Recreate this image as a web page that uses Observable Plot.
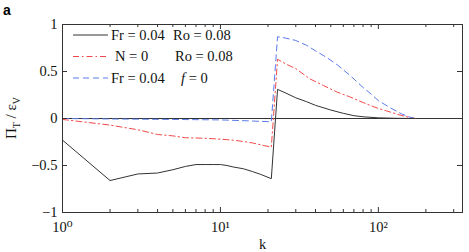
<!DOCTYPE html>
<html><head><meta charset="utf-8">
<script src="https://cdn.jsdelivr.net/npm/d3@7"></script>
<script src="https://cdn.jsdelivr.net/npm/@observablehq/plot@0.6"></script>
<style>
body{margin:0;background:#fff;}
#wrap{position:relative;width:469px;height:252px;}
</style></head><body><div id="wrap"></div>
<script>
// Series 1: Fr = 0.04, Ro = 0.08 (black solid)
const kBlack = [1,2,3,4,5,6,7,8,9,10,11,12,14,16,18,21,23,26,30,35,40,50,60,70,80,100,130,170];
const piBlack = [-0.23,-0.66,-0.59,-0.58,-0.545,-0.51,-0.49,-0.49,-0.49,-0.49,-0.5,-0.515,-0.535,-0.565,-0.595,-0.64,0.31,0.27,0.22,0.18,0.14,0.09,0.055,0.03,0.018,0.007,0.002,0];
// Series 2: N = 0, Ro = 0.08 (red dash-dot)
const kRed = [1,2,3,4,5,6,8,10,12,14,16,18,21,23,26,30,37,45,55,66,80,95,113,135,150,171];
const piRed = [-0.01,-0.07,-0.12,-0.17,-0.185,-0.205,-0.21,-0.22,-0.23,-0.245,-0.26,-0.28,-0.305,0.63,0.58,0.53,0.42,0.35,0.28,0.23,0.17,0.12,0.08,0.04,0.02,0];
// Series 3: Fr = 0.04, f = 0 (blue dashed)
const kBlue = [1,2,5,10,15,21,23,26,30,35,40,47,55,66,80,90,100,120,140,158,171];
const piBlue = [0,-0.005,-0.01,-0.015,-0.025,-0.035,0.87,0.855,0.83,0.78,0.72,0.65,0.57,0.46,0.33,0.26,0.19,0.11,0.05,0.015,0];

const xMajor = [1,10,100];
const xMinor = [2,3,4,5,6,7,8,9,20,30,40,50,60,70,80,90,200,300];
const yTicks = [-1,-0.5,0,0.5,1];
const supDigits = {"0":"\u2070","1":"\u00B9","2":"\u00B2"};

const W = 469, H = 252, mL = 62, mR = 7, mT = 24, mB = 40;
const fw = W - mL - mR, fh = H - mT - mB;
const axisColor = "#333";
const red = "#f24a4a", blue = "#5b7bea", black = "#333";
const serif = "'Liberation Serif','Times New Roman','DejaVu Serif',serif";

const toRows = (ks, vs) => ks.map((k, i) => ({k, v: vs[i]}));

const chart = Plot.plot({
  width: W, height: H,
  marginLeft: mL, marginRight: mR, marginTop: mT, marginBottom: mB,
  style: {fontFamily: serif, fontSize: "14px", color: "#111", background: "#fff", overflow: "visible"},
  x: {type: "log", domain: [1, 341]},
  y: {domain: [-1, 1]},
  marks: [
    Plot.ruleY([0], {stroke: axisColor, strokeWidth: 1}),
    Plot.line(toRows(kRed, piRed), {x: "k", y: "v", stroke: red, strokeWidth: 1, strokeDasharray: "6,3,1.5,3"}),
    Plot.line(toRows(kBlue, piBlue), {x: "k", y: "v", stroke: blue, strokeWidth: 1, strokeDasharray: "6,4"}),
    Plot.line(toRows(kBlack, piBlack), {x: "k", y: "v", stroke: black, strokeWidth: 1}),
    Plot.tickX(xMajor, {x: d => d, insetTop: fh - 5, stroke: axisColor}),
    Plot.tickX(xMajor, {x: d => d, insetBottom: fh - 5, stroke: axisColor}),
    Plot.tickX(xMinor, {x: d => d, insetTop: fh - 3, stroke: axisColor}),
    Plot.tickX(xMinor, {x: d => d, insetBottom: fh - 3, stroke: axisColor}),
    Plot.tickY(yTicks, {y: d => d, insetRight: fw - 5, stroke: axisColor}),
    Plot.tickY(yTicks, {y: d => d, insetLeft: fw - 5, stroke: axisColor}),
    Plot.frame({stroke: axisColor, strokeWidth: 1}),
    Plot.axisY(yTicks, {tickSize: 0, tickPadding: 5, label: null, fontSize: 14.5, fontFamily: serif,
      tickFormat: d => d === 0 ? "0" : (d < 0 ? "\u2212" : "") + String(Math.abs(d))}),
    Plot.axisX(xMajor, {tickSize: 0, tickPadding: 9, fontSize: 14.5, fontFamily: serif,
      tickFormat: d => "10" + supDigits[String(Math.round(Math.log10(d)))],
      label: "k", labelAnchor: "center", labelArrow: "none", labelOffset: 36})
  ]
});
document.getElementById("wrap").appendChild(chart);

const svg = d3.select(chart);
// panel letter
svg.append("text").attr("x", 3).attr("y", 15).attr("text-anchor", "start")
  .attr("font-family", "'Liberation Sans',Arial,sans-serif").attr("font-weight", "bold")
  .attr("font-size", 14).attr("fill", "#000").text("a");
// y label
const yl = svg.append("text").attr("transform", "translate(16,118) rotate(-90)")
  .attr("text-anchor", "middle").attr("font-family", serif)
  .attr("font-size", 15).attr("fill", "#111");
yl.append("tspan").text("\u03A0");
yl.append("tspan").attr("font-size", 10).attr("dy", 4).text("T");
yl.append("tspan").attr("dy", -4).text(" / \u03B5");
yl.append("tspan").attr("font-size", 10).attr("dy", 4).text("V");

// legend
const legend = [
  {stroke: black, dash: null, a: "Fr = 0.04", ax: 111, b: "Ro = 0.08", bx: 173, italic: false},
  {stroke: red, dash: "6,3,1.5,3", a: "N = 0", ax: 115, b: "Ro = 0.08", bx: 175, italic: false},
  {stroke: blue, dash: "6,4", a: "Fr = 0.04", ax: 111, b: "f", bx: 181, italic: true}
];
const lg = svg.append("g").attr("font-family", serif).attr("font-size", 14.5)
  .attr("text-anchor", "start").attr("fill", "#111");
legend.forEach((d, i) => {
  const cy = 35 + i * 21.5;
  lg.append("line").attr("x1", 73).attr("x2", 108).attr("y1", cy).attr("y2", cy)
    .attr("stroke", d.stroke).attr("stroke-width", 1).attr("stroke-dasharray", d.dash);
  lg.append("text").attr("x", d.ax).attr("y", cy + 4.5).text(d.a);
  const t = lg.append("text").attr("x", d.bx).attr("y", cy + 4.5);
  if (d.italic) { t.append("tspan").attr("font-style", "italic").text(d.b); t.append("tspan").text(" = 0"); }
  else t.text(d.b);
});
</script></body></html>
